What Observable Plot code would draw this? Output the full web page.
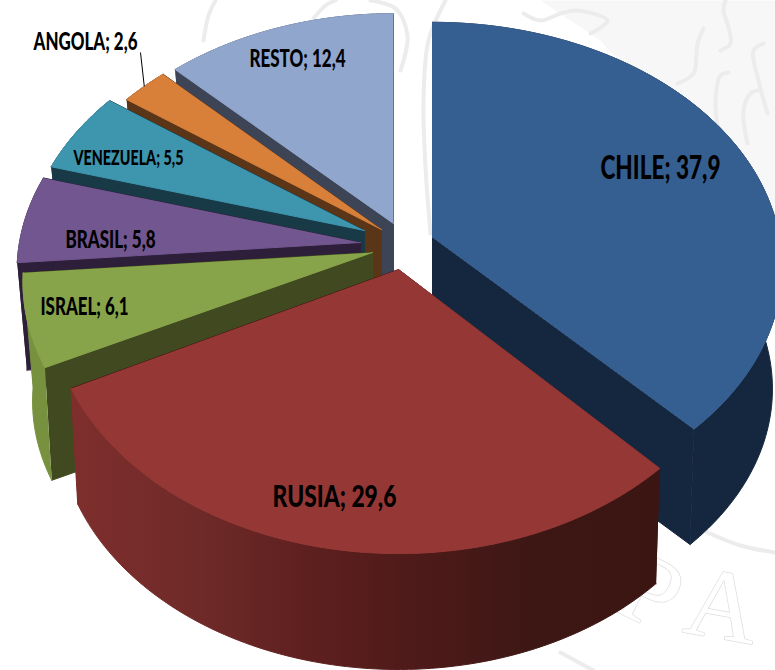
<!DOCTYPE html>
<html>
<head>
<meta charset="utf-8">
<script src="https://cdn.jsdelivr.net/npm/d3@7"></script>
<script src="https://cdn.jsdelivr.net/npm/@observablehq/plot@0.6"></script>
<style>
html,body{margin:0;padding:0;background:#fff;overflow:hidden}
</style>
</head>
<body>
<div id="chart"></div>
<script>
// Data
const countries = ["CHILE","RUSIA","ISRAEL","BRASIL","VENEZUELA","ANGOLA","RESTO"];
const shares = [37.9,29.6,6.1,5.8,5.5,2.6,12.4];

// Styling
const topColors = ["#365f91","#953735","#88a44b","#72568f","#3e95ae","#d8803a","#91a6cd"];
const wallColors = ["#15273f","#3a1512","#40491f","#2d1f3a","#173a46","#5b3518","#3d4456"];
const rimColors = ["#15273f","url(#rimShade)","#78913f","#2d1f3a","#173a46","#5b3518","#3d4456"];
const rimRamp = ["#7e2e2d","#702b29","#5e201f","#4c1a19","#3c1714","#3a1512"];

// Exploded layout of each slice (pixel-like frame of the plot)
const apexX = [432,398,372,360,364,381,393];
const apexY = [237,269,252,242,230,229,223];
const radiusX = [347,347,347,341,337,337,337];
const radiusY = [241,250,242,240,237,237,235];
const wallDepth = [118,118,115,108,110,110,110];
const drawOrder = [6,5,4,3,2,0,1];
const perspective = 0.12, lowerPerspective = 0.14, lowerScale = 0.97;

// Label layout
const labelX = [660,334,84,110,128,85,297];
const labelY = [168,497,307,240,158,42,59];
const labelSize = [32,31,24,24,21,24,24];
const labelWidth = [120,124,88,90,110,104,96];

// Faint engraving behind the chart
const engravingLetters = ["P","A"];
const letterX = [650,722], letterY = [592,606], letterTilt = [26,10], letterSize = [100,100];
const engravingStrokes = [
  [[677,83],[693,73],[697,43],[703,28]],
  [[720,50],[730,43],[728,27],[723,10],[725,0]],
  [[718,133],[715,100],[720,75],[728,72]],
  [[747,143],[743,110],[750,93],[758,90]],
  [[767,113],[758,80],[753,50],[763,43]],
  [[523,13],[540,20],[560,13],[577,10],[607,20],[590,33]],
  [[445,0],[428,40],[423,100],[425,167],[430,233]],
  [[203,40],[208,15],[215,0]],
  [[313,18],[325,5],[335,0]],
  [[370,0],[395,8],[407,35],[400,70]],
  [[707,532],[740,545],[775,552]],
  [[560,652],[593,670]]
];
const engravingWash = [[540,0],[775,0],[775,240],[600,40]];

const pie = d3.pie().sort(null).startAngle(0).endAngle(2*Math.PI)(shares);

function project(i, t, lower = false, r = 1) {
  const X = r*Math.sin(t), Y = -r*Math.cos(t);
  const w = 1 - (lower ? lowerPerspective : perspective)*Y;
  const s = lower ? lowerScale : 1;
  return {
    x: apexX[i] + s*radiusX[i]*X/w,
    y: apexY[i] + (lower ? wallDepth[i] : 0) + s*radiusY[i]*Y/w
  };
}
function arcAngles(a) {
  const n = Math.max(2, Math.ceil((a.endAngle - a.startAngle)/0.02));
  return d3.range(n + 1).map(k => a.startAngle + (a.endAngle - a.startAngle)*k/n);
}

const polys = [];
let pid = 0;
function addPoly(points, color) {
  const id = pid++;
  for (const p of points) polys.push({id, x:p.x, y:p.y, color});
}

for (const i of drawOrder) {
  const a = pie[i];
  const ts = arcAngles(a);
  const topApex = {x:apexX[i], y:apexY[i]};
  const lowApex = {x:apexX[i], y:apexY[i]+wallDepth[i]};
  // radial walls
  for (const t of [a.startAngle, a.endAngle]) {
    addPoly([project(i,t), topApex, lowApex, project(i,t,true)], wallColors[i]);
  }
  // outer rim wall
  addPoly([...ts.map(t=>project(i,t)), ...ts.slice().reverse().map(t=>project(i,t,true))], rimColors[i]);
  // top
  addPoly([topApex, ...ts.map(t=>project(i,t))], topColors[i]);
}

const labels = countries.map((c,i)=>({
  text: `${c}; ${String(shares[i]).replace(".",",")}`,
  x: labelX[i], y: labelY[i], size: labelSize[i], width: labelWidth[i]
}));

// Leader from ANGOLA's label to its slice
const ai = countries.indexOf("ANGOLA");
const anchor = project(ai, (pie[ai].startAngle + pie[ai].endAngle)/2);
const leader = [{x1: labelX[ai]+55, y1: labelY[ai]+10, x2: anchor.x, y2: anchor.y}];

const strokeRows = engravingStrokes.flatMap((s,id)=>s.map(([x,y])=>({id,x,y})));
const washRows = engravingWash.map(([x,y])=>({x,y}));
const letterRows = engravingLetters.map((text,i)=>({text,x:letterX[i],y:letterY[i],rotate:letterTilt[i],size:letterSize[i]}));

// Horizontal shading of RUSIA's rim, across the slice's on-screen extent
const ri = countries.indexOf("RUSIA");
function rimShadeDefs(index, scales) {
  const xs = arcAngles(pie[ri]).map(t=>project(ri,t).x);
  const defs = d3.create("svg:defs");
  const grad = defs.append("linearGradient")
    .attr("id","rimShade").attr("gradientUnits","userSpaceOnUse")
    .attr("x1",scales.x(d3.min(xs))).attr("x2",scales.x(d3.max(xs)))
    .attr("y1",0).attr("y2",0);
  rimRamp.forEach((c,k)=>grad.append("stop").attr("offset",k/(rimRamp.length-1)).attr("stop-color",c));
  return defs.node();
}

const plot = Plot.plot({
  width:775, height:670,
  margin:0,
  x:{domain:[0,775], axis:null},
  y:{domain:[670,0], axis:null},
  color:{type:"identity"},
  style:{background:"#fff"},
  marks:[
    rimShadeDefs,
    Plot.line(washRows,{x:"x",y:"y",fill:"#f7f7f7",stroke:"none"}),
    Plot.line(strokeRows,{x:"x",y:"y",z:"id",stroke:"#ececec",strokeWidth:4,curve:"catmull-rom"}),
    Plot.text(letterRows,{x:"x",y:"y",text:"text",rotate:"rotate",fontSize:"size",fontFamily:"Liberation Serif",fill:"#fff",stroke:"#dedede",strokeWidth:1.5}),
    Plot.line(polys,{x:"x",y:"y",z:"id",fill:"color",stroke:"color",strokeWidth:1,strokeLinejoin:"round",curve:"linear",clip:true}),
    Plot.link(leader,{x1:"x1",y1:"y1",x2:"x2",y2:"y2",stroke:"#000",strokeWidth:1}),
    Plot.text(labels,{x:"x",y:"y",text:"text",fontSize:"size",fontWeight:900,fontFamily:"Lato,'Liberation Sans',sans-serif",fill:"#000"})
  ]
});
// Squeeze the labels to the narrow lettering of the reference
const widthByText = new Map(labels.map(l=>[l.text,l.width]));
plot.querySelectorAll("text").forEach(el=>{
  const w = widthByText.get(el.textContent);
  if (w) { el.setAttribute("textLength", w); el.setAttribute("lengthAdjust","spacingAndGlyphs"); }
});
document.getElementById("chart").appendChild(plot);
</script>
</body>
</html>
